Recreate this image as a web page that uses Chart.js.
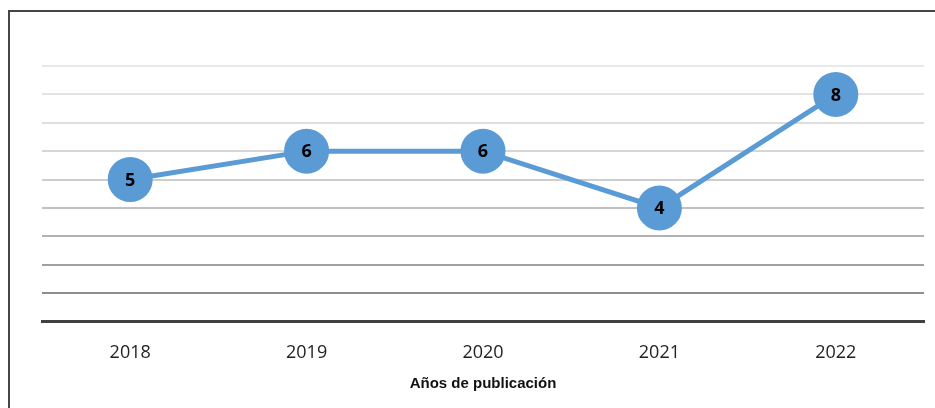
<!DOCTYPE html>
<html>
<head>
<meta charset="utf-8">
<script src="https://cdn.jsdelivr.net/npm/chart.js@4"></script>
<style>
    html, body { margin: 0; padding: 0; background: #fff; overflow: hidden; }
    #wrap { position: relative; width: 935px; height: 408px; }
    #frame {
        position: absolute; left: 8px; top: 10px;
        width: 960px; height: 430px;
        border: 2px solid #454545; box-sizing: border-box;
    }
    canvas { position: absolute; left: 0; top: 0; }
</style>
</head>
<body>
<div id="wrap">
    <div id="frame"></div>
    <canvas id="chart" width="935" height="408"></canvas>
</div>
<script>
// Data
const years = ['2018', '2019', '2020', '2021', '2022'];
const publications = [5, 6, 6, 4, 8];
const yTicks = [0, 1, 2, 3, 4, 5, 6, 7, 8, 9];

// Gridline shades, light at top, darker toward the axis
const gridShades = {
    1: '#8e8e8e', 2: '#a0a0a0', 3: '#b2b2b2', 4: '#c0c0c0', 5: '#cdcdcd',
    6: '#d6d6d6', 7: '#dedede', 8: '#e4e4e4', 9: '#e8e8e8'
};

const blue = '#5b9bd5';

// Draws the value inside each marker
const pointLabels = {
    id: 'pointLabels',
    afterDatasetsDraw(chart) {
        const ctx = chart.ctx;
        const meta = chart.getDatasetMeta(0);
        ctx.save();
        ctx.font = 'bold 18px "Open Sans", "Liberation Sans", sans-serif';
        ctx.fillStyle = '#000';
        ctx.textAlign = 'center';
        ctx.textBaseline = 'middle';
        meta.data.forEach((pt, i) => {
            ctx.fillText(publications[i], pt.x, pt.y + 1);
        });
        ctx.restore();
    }
};

const ctx = document.getElementById('chart').getContext('2d');
new Chart(ctx, {
    type: 'line',
    data: {
        labels: years,
        datasets: [{
            data: publications,
            borderColor: blue,
            borderWidth: 5,
            backgroundColor: blue,
            pointBackgroundColor: blue,
            pointBorderColor: blue,
            pointRadius: 20,
            pointHoverRadius: 20,
            tension: 0
        }]
    },
    options: {
        responsive: false,
        animation: false,
        events: [],
        layout: {
            autoPadding: false,
            padding: { left: 42, right: 11, top: 66, bottom: 15 }
        },
        scales: {
            x: {
                offset: true,
                grid: { display: false },
                border: { color: '#404040', width: 3 },
                ticks: {
                    color: '#222',
                    padding: 13,
                    font: { size: 18, family: '"Open Sans", "Liberation Sans", sans-serif' }
                },
                title: {
                    display: true,
                    text: 'Años de publicación',
                    color: '#111',
                    padding: { top: -2, bottom: 0 },
                    font: { size: 15, weight: 'bold', family: '"Liberation Sans", Arial, sans-serif' }
                }
            },
            y: {
                min: yTicks[0],
                max: yTicks[yTicks.length - 1],
                afterBuildTicks: axis => {
                    axis.ticks = yTicks.map(v => ({ value: v }));
                },
                ticks: { display: false },
                border: { display: false },
                grid: {
                    lineWidth: 2,
                    drawTicks: false,
                    color: c => c.tick && c.tick.value > 0 ? gridShades[c.tick.value] : 'rgba(0,0,0,0)'
                }
            }
        },
        plugins: {
            legend: { display: false },
            tooltip: { enabled: false }
        }
    },
    plugins: [pointLabels]
});
</script>
</body>
</html>
